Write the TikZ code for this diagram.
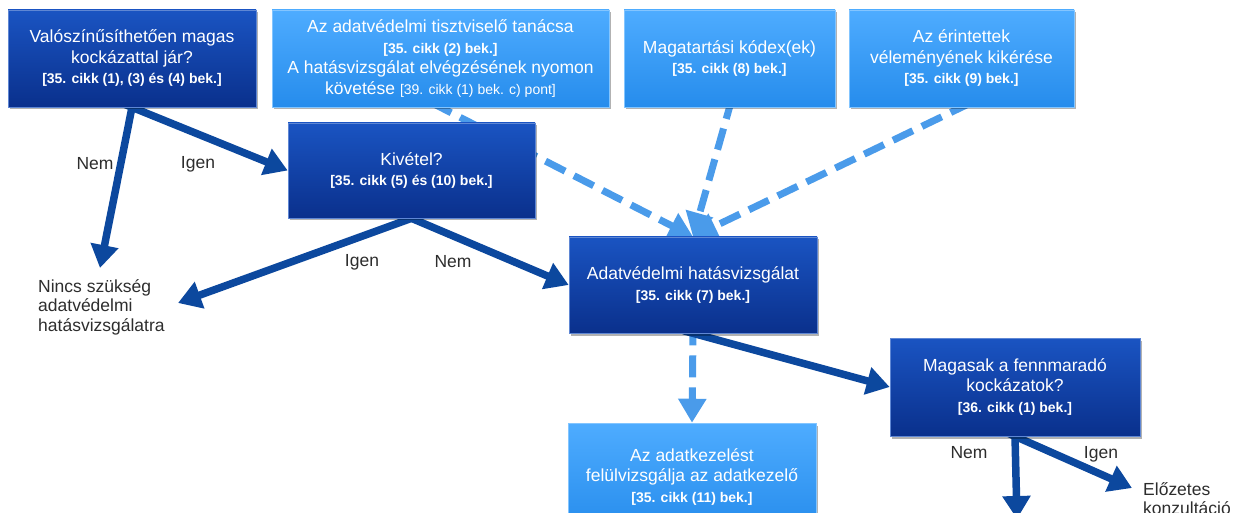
\documentclass[tikz,border=0pt]{standalone}
\usepackage{fontspec}
\setmainfont{Liberation Sans}
\usetikzlibrary{arrows.meta,calc,shadows,backgrounds}
\definecolor{darkTop}{RGB}{26,84,194}
\definecolor{darkBot}{RGB}{10,48,140}
\definecolor{lightTop}{RGB}{78,172,255}
\definecolor{lightBot}{RGB}{38,140,236}
\definecolor{arrowDark}{RGB}{12,72,158}
\definecolor{arrowLight}{RGB}{74,155,234}
\definecolor{labelGray}{RGB}{45,45,45}
\newcommand{\refbold}[1]{{\fontsize{14}{16}\selectfont\bfseries #1}}
\newcommand{\refreg}[1]{{\fontsize{14}{16}\selectfont #1}}
\tikzset{
  box/.style={rectangle, inner sep=0pt, align=center, text=white,
    font=\fontsize{17.5}{20.5}\selectfont,
    drop shadow={shadow xshift=1.5pt, shadow yshift=-2.5pt, opacity=0.3, fill=black}},
  darkbox/.style={box, top color=darkTop, bottom color=darkBot, draw=darkTop!70!white, line width=0.6pt},
  lightbox/.style={box, top color=lightTop, bottom color=lightBot, draw=lightTop!70!white, line width=0.6pt},
  flow/.style={draw=arrowDark, line width=7.5pt, -{Triangle[length=23pt,width=27pt]}},
  advice/.style={draw=arrowLight, line width=7pt, dash pattern=on 22pt off 10pt, -{Triangle[length=24pt,width=27pt]}},
  lbl/.style={font=\fontsize{17.5}{20}\selectfont, text=labelGray, inner sep=0pt},
  plain/.style={font=\fontsize{17.5}{19.5}\selectfont, text=labelGray, inner sep=0pt, align=left},
}
\begin{document}
\begin{tikzpicture}[x=1pt,y=-1pt]
\useasboundingbox (0,0) rectangle (1240,513);
\clip (0,0) rectangle (1240,513);

% boxes
\node[darkbox, minimum width=248pt, minimum height=97pt] (b1) at (132,58.5)
  {Valószínűsíthetően magas\\kockázattal jár?\\\refbold{[35. cikk (1), (3) és (4) bek.]}};
\node[lightbox, minimum width=337pt, minimum height=97pt] (b2) at (440.5,58.5)
  {Az adatvédelmi tisztviselő tanácsa\\\refbold{[35. cikk (2) bek.]}\\A hatásvizsgálat elvégzésének nyomon\\követése \refreg{[39. cikk (1) bek. c) pont]}};
\node[lightbox, minimum width=211pt, minimum height=97pt] (b3) at (729.5,58.5)
  {Magatartási kódex(ek)\\\refbold{[35. cikk (8) bek.]}};
\node[lightbox, minimum width=225pt, minimum height=97pt] (b4) at (961.5,58.5)
  {Az érintettek\\véleményének kikérése\\\refbold{[35. cikk (9) bek.]}};
\node[darkbox, minimum width=247pt, minimum height=95pt] (kiv) at (411.5,170.5)
  {Kivétel?\\\refbold{[35. cikk (5) és (10) bek.]}};
\node[darkbox, minimum width=248pt, minimum height=96pt] (adat) at (693,285)
  {Adatvédelmi hatásvizsgálat\\\refbold{[35. cikk (7) bek.]}};
\node[darkbox, minimum width=250pt, minimum height=98pt] (mag) at (1015,387)
  {Magasak a fennmaradó\\kockázatok?\\\refbold{[36. cikk (1) bek.]}};
\node[lightbox, minimum width=248pt, minimum height=108pt] (az) at (692,477)
  {Az adatkezelést\\felülvizsgálja az adatkezelő\\\refbold{[35. cikk (11) bek.]}};

% plain texts
\node[plain, anchor=north west] (nincs) at (38,279) {Nincs szükség\\adatvédelmi\\hatásvizsgálatra};
\node[plain, anchor=north west] (elo) at (1143,482) {Előzetes\\konzultáció};

% labels
\node[lbl] (l1) at (95,164) {Nem};
\node[lbl] (l2) at (198,164) {Igen};
\node[lbl] (l3) at (362,262) {Igen};
\node[lbl] (l4) at (453,262) {Nem};
\node[lbl] (l5) at (969,453) {Nem};
\node[lbl] (l6) at (1101,454) {Igen};

% free ends
\coordinate (nincsTop) at (100,268);
\coordinate (nincsSide) at (178,303);
\coordinate (magDown) at (1017,519);
\coordinate (eloTip) at (1132,488);

\begin{scope}[on background layer]
  \draw[advice] ($(b2.south)!-10pt!(adat.north)$) -- (adat.north);
  \draw[advice] ($(b3.south)!-10pt!(adat.north)$) -- (adat.north);
  \draw[advice] ($(b4.south)!-10pt!(adat.north)$) -- (adat.north);
  \draw[advice] ($(adat.south)!-10pt!(az.north)$) -- (az.north);
  \draw[flow] ($(b1.south)!-10pt!(nincsTop)$) -- (nincsTop);
  \draw[flow] ($(b1.south)!-10pt!(kiv.west)$) -- (kiv.west);
  \draw[flow] ($(kiv.south)!-10pt!(nincsSide)$) -- (nincsSide);
  \draw[flow] ($(kiv.south)!-10pt!(adat.west)$) -- (adat.west);
  \draw[flow] ($(adat.south)!-10pt!(mag.west)$) -- (mag.west);
  \draw[flow] ($(mag.south)!-10pt!(magDown)$) -- (magDown);
  \draw[flow] ($(mag.south)!-10pt!(eloTip)$) -- (eloTip);
\end{scope}
\end{tikzpicture}
\end{document}
